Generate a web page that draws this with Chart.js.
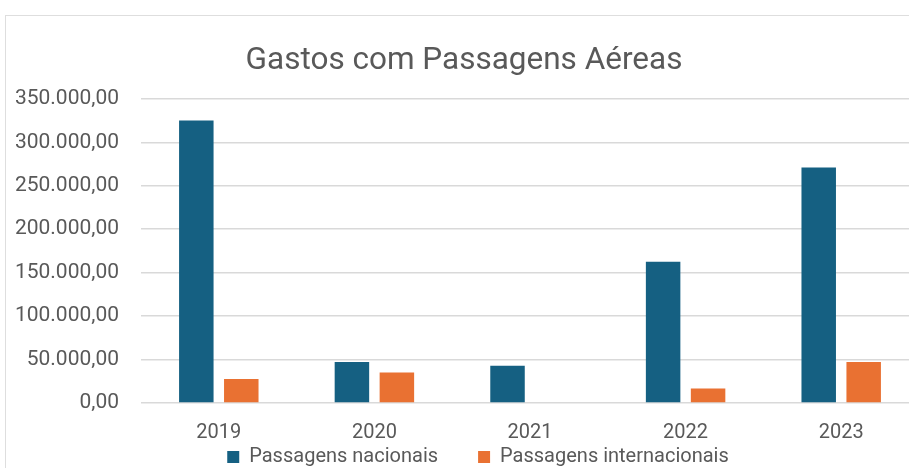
<!DOCTYPE html>
<html lang="pt-BR">
<head>
<meta charset="UTF-8">
<title>Gastos com Passagens Aéreas</title>
<script src="https://cdn.jsdelivr.net/npm/chart.js@4.4.1/dist/chart.umd.min.js"></script>
<style>
  html, body {
    margin: 0;
    padding: 0;
    background: #ffffff;
    overflow: hidden;
  }
  .moldura {
    position: absolute;
    left: 5px;
    top: 15px;
    width: 1000px;
    height: 1000px;
    border: 1px solid #dedede;
  }
  #grafico {
    position: absolute;
    left: 0;
    top: 0;
  }
</style>
</head>
<body>
<div class="moldura"></div>
<canvas id="grafico" width="929" height="468"></canvas>
<script>
const anos = ["2019", "2020", "2021", "2022", "2023"];
const nacionais = [325000, 47200, 42900, 162500, 271000];
const internacionais = [27600, 35200, 0, 16800, 47200];
const ticksY = [0, 50000, 100000, 150000, 200000, 250000, 300000, 350000];

const corTexto = "#595959";
const fonte = "Roboto, 'Liberation Sans', sans-serif";

// formato brasileiro: 350.000,00
function formatoBR(valor) {
  const partes = valor.toFixed(2).split(".");
  partes[0] = partes[0].replace(/\B(?=(\d{3})+(?!\d))/g, ".");
  return partes.join(",");
}

// a legenda usa padding 40 para separar os itens, entao a caixa dela
// sobe ate logo abaixo do eixo (o texto fica embaixo dos anos)
// e vai um pouco para a direita
const ajustarLegenda = {
  id: "ajustarLegenda",
  afterLayout(chart) {
    const legenda = chart.legend;
    legenda.top = chart.chartArea.bottom + 4;
    legenda.bottom = chart.height;
    legenda.height = legenda.bottom - legenda.top;
    legenda.left += 14;
    legenda.right += 14;
  },
};

const ctx = document.getElementById("grafico").getContext("2d");

const grafico = new Chart(ctx, {
  type: "bar",
  data: {
    labels: anos,
    datasets: [
      {
        label: "Passagens nacionais",
        data: nacionais,
        backgroundColor: "#156082",
        categoryPercentage: 0.578,
        barPercentage: 0.767,
      },
      {
        label: "Passagens internacionais",
        data: internacionais,
        backgroundColor: "#E97132",
        categoryPercentage: 0.578,
        barPercentage: 0.767,
      },
    ],
  },
  options: {
    responsive: false,
    animation: false,
    devicePixelRatio: 1,
    layout: {
      padding: { left: 9, right: 10, top: 0, bottom: 0 },
    },
    scales: {
      x: {
        grid: { display: false, drawTicks: false },
        border: { display: false },
        ticks: {
          color: corTexto,
          font: { family: fonte, size: 20 },
          padding: 18,
        },
      },
      y: {
        min: ticksY[0],
        max: ticksY[ticksY.length - 1],
        grid: {
          color: "#d9d9d9",
          lineWidth: 1.5,
          drawTicks: false,
        },
        border: { display: false },
        ticks: {
          stepSize: ticksY[1] - ticksY[0],
          color: corTexto,
          font: { family: fonte, size: 21 },
          padding: 22,
          callback: (valor) => formatoBR(valor),
        },
        afterFit: (escala) => {
          escala.width = 132;
        },
      },
    },
    plugins: {
      title: {
        display: true,
        text: "Gastos com Passagens Aéreas",
        color: corTexto,
        font: { family: fonte, size: 31.5, weight: "normal" },
        padding: { top: 42, bottom: 19 },
      },
      legend: {
        position: "bottom",
        maxHeight: 5,
        labels: {
          color: corTexto,
          font: { family: fonte, size: 20 },
          boxWidth: 12,
          boxHeight: 12,
          padding: 40,
        },
      },
      tooltip: { enabled: false },
    },
  },
  plugins: [ajustarLegenda],
});
</script>
</body>
</html>
